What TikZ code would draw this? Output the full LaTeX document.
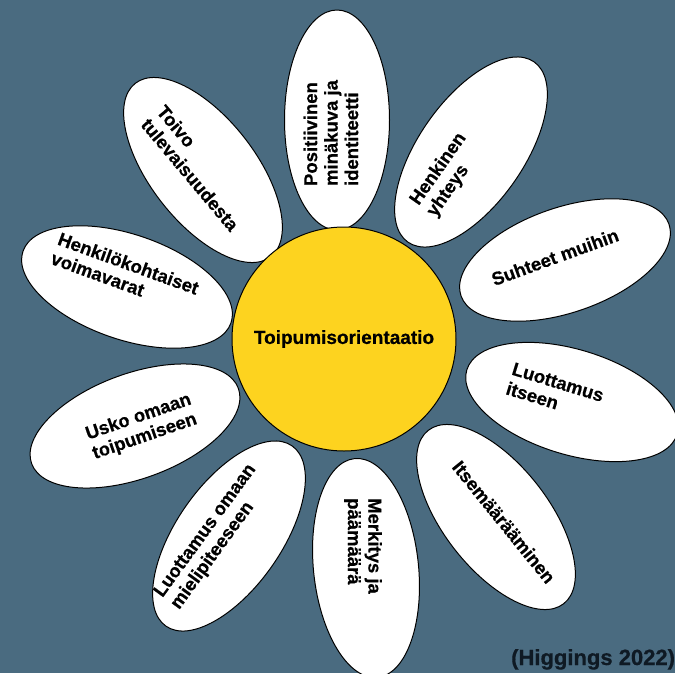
\documentclass[tikz,border=0pt]{standalone}
\usepackage{fontspec}
\setmainfont{Liberation Sans}[BoldFeatures={FakeBold=0.6}]
\usepackage{tikz}
\usetikzlibrary{shapes.geometric}
\definecolor{bgblue}{HTML}{4A6B80}
\definecolor{sunyellow}{HTML}{FDD31F}
\definecolor{citeink}{HTML}{0F1A24}
\tikzstyle{petal} = [ellipse, draw=black, line width=1pt, fill=white, minimum width=220pt, minimum height=105pt, inner sep=0pt]
\tikzstyle{petaltext} = [align=left, font=\fontsize{18.5}{20.5}\selectfont\bfseries, text=black, inner sep=0pt]

\begin{document}
\begin{tikzpicture}[x=1pt,y=-1pt]
  \useasboundingbox (0,0) rectangle (675,673);
  \fill[bgblue] (0,0) rectangle (675,673);
  \foreach \n/\px/\py/\pa/\tx/\ty/\ta/\lbl in {
      1/337/120/90/331/133/90/{Positiivinen\\minäkuva ja\\identiteetti},
      2/471/152/55/447/175/55/{Henkinen\\yhteys},
      3/565/260/19/555/257/20/{Suhteet muihin},
      4/572/402/-17/555/392/-17/{Luottamus\\itseen},
      5/496/517/-52/504/522/-51/{Itsemäärääminen},
      6/366/568/-84/363/546/-90/{Merkitys ja\\päämäärä},
      7/229/536/55/214/537/54/{Luottamus omaan\\mielipiteeseen},
      8/135/426/20/142/427/19/{Usko omaan\\toipumiseen},
      9/127/287/-19/125/273/-20/{Henkilökohtaiset\\voimavarat},
      10/203/170/-52/198/168/-50/{Toivo\\tulevaisuudesta}}{
    \node[petal, rotate=\pa] (p\n) at (\px,\py) {};
    \node[petaltext, rotate=\ta] (t\n) at (\tx,\ty) {\lbl};
  }
  \node[circle, draw=black, line width=1pt, fill=sunyellow, minimum size=224pt, inner sep=0pt,
        font=\fontsize{19}{21}\selectfont\bfseries] (core) at (344,339) {Toipumisorientaatio};
  \node[anchor=base west, inner sep=0pt, text=citeink, font=\fontsize{22}{24}\selectfont\bfseries] (cite) at (511,665) {(Higgings 2022)};
\end{tikzpicture}
\end{document}
